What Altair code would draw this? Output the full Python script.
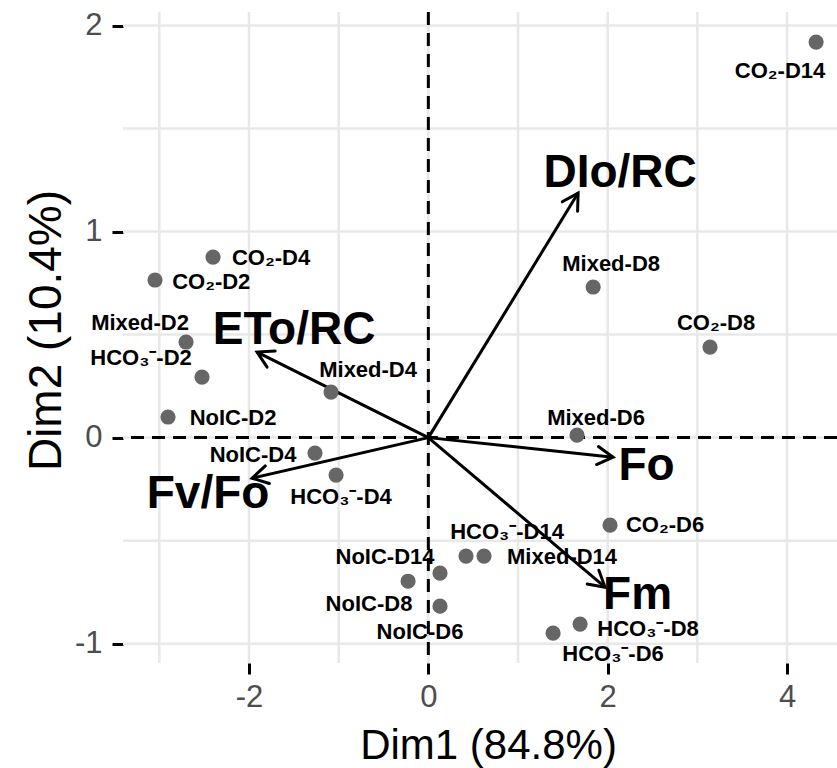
import math
import altair as alt
import pandas as pd

# ---- observations (individuals) ----
obs_names = ["CO₂-D14", "Mixed-D8", "CO₂-D8", "Mixed-D6", "CO₂-D4", "CO₂-D2",
             "Mixed-D2", "HCO₃⁻-D2", "NoIC-D2", "Mixed-D4", "NoIC-D4", "HCO₃⁻-D4",
             "CO₂-D6", "HCO₃⁻-D14", "Mixed-D14", "NoIC-D14", "NoIC-D8", "NoIC-D6",
             "HCO₃⁻-D8", "HCO₃⁻-D6"]
obs_x = [4.324, 1.838, 3.141, 1.658, -2.401, -3.048, -2.702, -2.524, -2.903, -1.085,
         -1.264, -1.029, 2.026, 0.420, 0.621, 0.130, -0.226, 0.130, 1.692, 1.391]
obs_y = [1.920, 0.731, 0.439, 0.012, 0.876, 0.765, 0.464, 0.294, 0.100, 0.221,
         -0.075, -0.182, -0.425, -0.575, -0.575, -0.658, -0.697, -0.818, -0.905, -0.949]
# label anchor positions (repelled labels)
lab_x = [3.922, 2.038, 3.208, 1.870, -1.754, -2.421, -3.215, -3.204, -2.178, -0.672,
         -1.955, -0.974, 2.640, 0.878, 1.491, -0.483, -0.662, -0.093, 2.450, 2.059]
lab_y = [1.784, 0.847, 0.561, 0.100, 0.876, 0.760, 0.561, 0.391, 0.100, 0.333,
         -0.080, -0.284, -0.420, -0.454, -0.575, -0.575, -0.803, -0.939, -0.925, -1.045]

# ---- variables (arrows) ----
var_names = ["DIo/RC", "ETo/RC", "Fv/Fo", "Fo", "Fm"]
var_x = [1.670, -1.910, -1.966, 2.060, 1.970]
var_y = [1.187, 0.415, -0.197, -0.095, -0.726]
var_lab_x = [2.138, -1.497, -2.456, 2.433, 2.333]
var_lab_y = [1.301, 0.539, -0.260, -0.121, -0.750]

# ---- axes ----
x_ticks = [-2, 0, 2, 4]
y_ticks = [-1, 0, 1, 2]
x_grid = [-3, -2, -1, 0, 1, 2, 3, 4]
y_grid = [-1, -0.5, 0, 0.5, 1, 1.5, 2]
X_DOMAIN = [-3.405, 4.557]
Y_DOMAIN = [-1.094, 2.066]
W, H = 714, 651

xs = alt.Scale(domain=X_DOMAIN, nice=False, zero=False)
ys = alt.Scale(domain=Y_DOMAIN, nice=False, zero=False)

obs = pd.DataFrame({"name": obs_names, "x": obs_x, "y": obs_y, "lx": lab_x, "ly": lab_y})

px_x = W / (X_DOMAIN[1] - X_DOMAIN[0])
px_y = H / (Y_DOMAIN[1] - Y_DOMAIN[0])
angles = [(math.degrees(math.atan2(vx * px_x, vy * px_y)) + 360) % 360 for vx, vy in zip(var_x, var_y)]
var = pd.DataFrame({"name": var_names, "x": var_x, "y": var_y, "ox": [0.0] * 5, "oy": [0.0] * 5,
                    "lx": var_lab_x, "ly": var_lab_y, "ang": angles})

FONT = "Liberation Sans"
LABEL_EXPR = "'' + datum.value"

x_axis = alt.Axis(values=x_ticks, grid=False, domain=False, ticks=True, tickColor="black",
                  tickWidth=3, tickSize=11, labelFontSize=31, labelColor="#4d4d4d",
                  labelFont=FONT, labelPadding=8, labelFlush=False, labelExpr=LABEL_EXPR,
                  title="Dim1 (84.8%)", titleFont=FONT, titleFontSize=42,
                  titleFontWeight="normal", titleColor="black", titleY=95, titleX=365,
                  titleAlign="center", titleBaseline="alphabetic")
y_axis = alt.Axis(values=y_ticks, grid=False, domain=False, ticks=True, tickColor="black",
                  tickWidth=3, tickSize=11, labelFontSize=31, labelColor="#4d4d4d",
                  labelFont=FONT, labelPadding=10, labelFlush=False, labelExpr=LABEL_EXPR,
                  title="Dim2 (10.4%)", titleFont=FONT, titleFontSize=46,
                  titleFontWeight="normal", titleColor="black", titleX=-63, titleY=318,
                  titleAlign="center", titleBaseline="alphabetic", titleAngle=270)


def X(f):
    return alt.X(f, scale=xs, axis=x_axis)


def Y(f):
    return alt.Y(f, scale=ys, axis=y_axis)


grid_v = alt.Chart(pd.DataFrame({"g": x_grid})).mark_rule(color="#e8e8e8", strokeWidth=2.5).encode(
    x=X("g:Q"))
grid_h = alt.Chart(pd.DataFrame({"g": y_grid})).mark_rule(color="#e8e8e8", strokeWidth=2.5).encode(
    y=Y("g:Q"))

zero_v = alt.Chart(pd.DataFrame({"z": [0]})).mark_rule(color="black", strokeWidth=3, strokeDash=[13, 8]).encode(
    x=X("z:Q"))
zero_h = alt.Chart(pd.DataFrame({"z": [0]})).mark_rule(color="black", strokeWidth=3, strokeDash=[13, 8]).encode(
    y=Y("z:Q"))

base_var = alt.Chart(var)
shafts = base_var.mark_rule(color="black", strokeWidth=3).encode(
    x=X("ox:Q"), y=Y("oy:Q"), x2="x:Q", y2="y:Q")
heads = base_var.mark_point(shape="M -0.5 0.87 L 0 0 L 0.5 0.87", filled=False, color="black",
                            strokeWidth=3, size=1300, opacity=1, strokeCap="round", strokeJoin="miter").encode(
    x=X("x:Q"), y=Y("y:Q"), angle=alt.Angle("ang:Q", scale=None))
var_labels = base_var.mark_text(font=FONT, fontSize=46, fontWeight="bold", color="black",
                                align="center", baseline="middle", dy=3).encode(
    x=X("lx:Q"), y=Y("ly:Q"), text="name:N")

base_obs = alt.Chart(obs)
points = base_obs.mark_circle(color="#666666", size=230, opacity=1).encode(
    x=X("x:Q"), y=Y("y:Q"))
obs_labels = base_obs.mark_text(font=FONT, fontSize=22, fontWeight="bold", color="black",
                                align="center", baseline="middle", dy=1).encode(
    x=X("lx:Q"), y=Y("ly:Q"), text="name:N")

chart = alt.layer(grid_v, grid_h, zero_v, zero_h, shafts, heads, points, obs_labels, var_labels).properties(
    width=W, height=H,
    autosize=alt.AutoSizeParams(type="none"),
    padding={"left": 123, "top": 12, "right": 0, "bottom": 105},
    background="white",
).configure_view(stroke=None)

chart.save("out.html", embed_options={"renderer": "svg", "actions": False})
